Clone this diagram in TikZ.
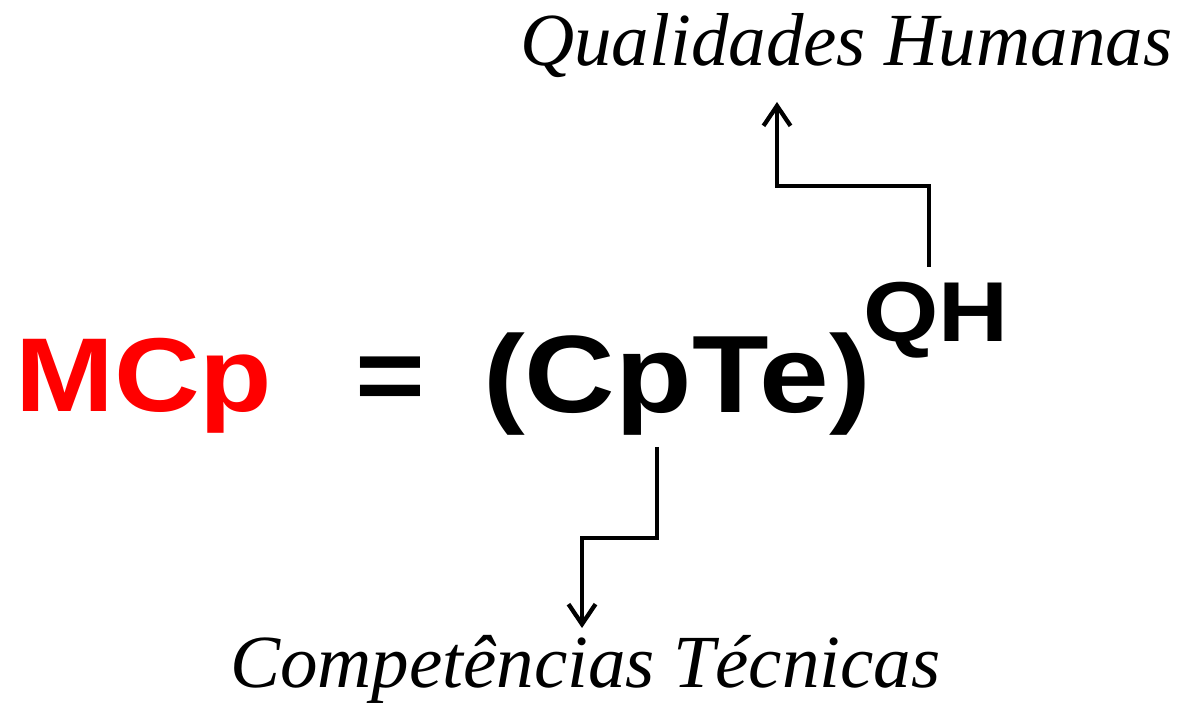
\documentclass[tikz,border=0pt]{standalone}
\usepackage{fontspec}
\setmainfont{Liberation Serif}
\newfontfamily\arialbd{Liberation Sans Bold}
\usetikzlibrary{arrows.meta}
\definecolor{mcpred}{RGB}{255,0,0}
\tikzset{
  big/.style={inner sep=0pt, anchor=base west, font=\arialbd\fontsize{105}{120}\selectfont},
  bigger/.style={inner sep=0pt, anchor=base west, font=\arialbd\fontsize{110}{125}\selectfont},
  sup/.style={inner sep=0pt, anchor=base west, font=\arialbd\fontsize{85}{100}\selectfont},
  lab/.style={inner sep=0pt, anchor=base west, font=\itshape\fontsize{75}{85}\selectfont},
  conn/.style={line width=4.3pt, line join=miter, -{Straight Barb[length=20pt,width=27pt,line width=4.3pt]}}
}
\begin{document}
\begin{tikzpicture}[x=1pt,y=1pt]
\useasboundingbox (0,0) rectangle (1178,704);
\node[big, text=mcpred] (mcp) at (15,292) {\scalebox{1.13}[1]{MCp}};
\node[big, anchor=base] (eq) at (390,292) {\scalebox{1.14}[1]{=}};
\node[bigger] (cpte) at (483,291) {\scalebox{1.14}[1]{(CpTe)}};
\node[sup] (qh) at (863,362) {\scalebox{1.14}[1]{QH}};
\node[lab] (quh) at (520,638) {Qualidades Humanas};
\node[lab] (comp) at (230,16) {Competências Técnicas};
\coordinate (u0) at (929,437);
\coordinate (u1) at (929,518);
\coordinate (u2) at (777,518);
\coordinate (u3) at (777,602);
\coordinate (d0) at (657,257);
\coordinate (d1) at (657,166);
\coordinate (d2) at (582,166);
\coordinate (d3) at (582,76);
\draw[conn] (u0) -- (u1) -- (u2) -- (u3);
\draw[conn] (d0) -- (d1) -- (d2) -- (d3);
\end{tikzpicture}
\end{document}
